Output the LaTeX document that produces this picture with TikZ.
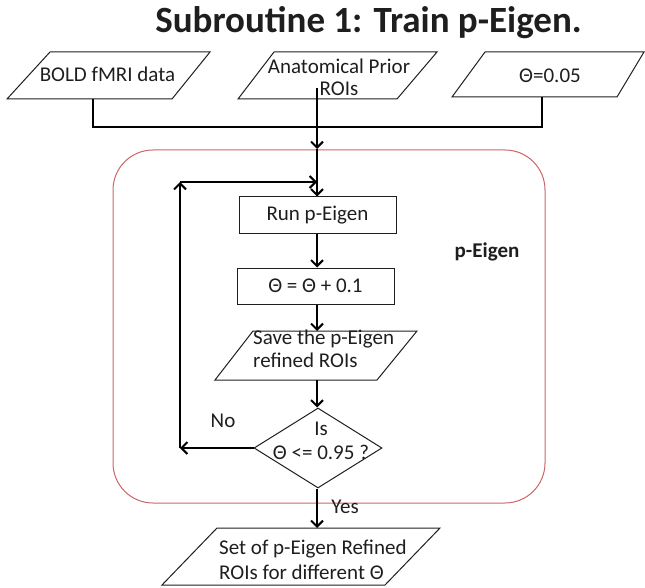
\documentclass[tikz,border=0pt]{standalone}
\usepackage{fontspec}
\setmainfont{Carlito}
\usetikzlibrary{arrows.meta,shapes.geometric}
\definecolor{redline}{RGB}{204,102,102}
\definecolor{ink}{RGB}{30,30,30}
\begin{document}
\begin{tikzpicture}[x=1pt,y=-1pt,
  box/.style={draw=ink,line width=1pt},
  txt/.style={font=\fontsize{21}{23}\selectfont, text=ink, inner sep=0pt, align=center},
  titletxt/.style={font=\fontsize{37}{40}\selectfont\bfseries, text=ink, inner sep=0pt},
  conn/.style={line width=2pt, draw=black},
  arr/.style={conn, -{Straight Barb[length=6pt,width=12pt,line width=2pt]}},
  procbox/.style={box, txt, minimum width=157pt, minimum height=36pt},
  decision/.style={box, shape=diamond, minimum width=128pt, minimum height=80pt, inner sep=0pt},
  groupbox/.style={draw=redline, line width=1pt, rounded corners=40pt}
]
\useasboundingbox (0,0) rectangle (645,588);

% title
\node[titletxt, anchor=base] (title) at (368.5,33) {Subroutine 1: Train p-Eigen.};

% group frame
\draw[groupbox] (113,150) rectangle (545,503);
\node[txt, font=\fontsize{21}{23}\selectfont\bfseries, anchor=base] (plabel) at (487,258) {p-Eigen};

% inputs
\draw[box] (7,99) -- (50,52) -- (210,52) -- (172,99) -- cycle;
\node[txt, anchor=base] (bold) at (107.5,82) {BOLD fMRI data};
\draw[box] (238,99) -- (274,52) -- (437,52) -- (397,99) -- cycle;
\node[txt, font=\fontsize{21}{22}\selectfont] (anat) at (339,77) {Anatomical Prior\\ROIs};
\draw[box] (452,97) -- (485,52) -- (644,52) -- (617,97) -- cycle;
\node[txt, anchor=base] (theta0) at (550,83) {Θ=0.05};

% process
\node[procbox] (run) at (317.5,215) {Run p-Eigen};
\node[procbox] (inc) at (315.5,286) {Θ = Θ + 0.1};
\draw[box] (215,380) -- (253,331) -- (417,331) -- (377,380) -- cycle;
\node[txt, align=left, anchor=west] (save) at (253,349) {Save the p-Eigen\\refined ROIs};
\node[decision] (dia) at (318,448) {};
\node[txt, font=\fontsize{21}{24}\selectfont] (diatext) at (321,441) {Is\\Θ <= 0.95 ?};

% output
\draw[box] (162,585) -- (217,528) -- (440,528) -- (385,585) -- cycle;
\node[txt, align=left, anchor=west, font=\fontsize{21}{25}\selectfont] (set) at (219,560) {Set of p-Eigen Refined\\ROIs for different Θ};

% labels
\node[txt, anchor=base] (no) at (223,427) {No};
\node[txt, anchor=base] (yes) at (345,513) {Yes};

% connector points
\coordinate (boldout) at (93,99);
\coordinate (thetaout) at (542,97);
\coordinate (anatout) at (317,88);
\coordinate (join) at (317,127);
\coordinate (redtop) at (317,149);
\coordinate (savetop) at (317,331);
\coordinate (savebot) at (317,380);
\coordinate (settop) at (317,528);
\coordinate (nocorner) at (180,448);
\coordinate (loop) at (180,182);
\coordinate (loopend) at (317,182);

% connectors
\draw[conn] (boldout) |- (join) -| (thetaout);
\draw[arr] (anatout) -- (redtop);
\draw[arr] (redtop) -- (run.north -| redtop);
\draw[arr] (run.south -| redtop) -- (inc.north -| redtop);
\draw[arr] (inc.south -| redtop) -- (savetop);
\draw[arr] (savebot) -- (dia.north -| savebot);
\draw[arr] (dia.west) -- (nocorner);
\draw[arr] (nocorner) -- (loop);
\draw[arr] (loop) -- (loopend);
\draw[arr] (dia.south -| settop) -- (settop);
\end{tikzpicture}
\end{document}
